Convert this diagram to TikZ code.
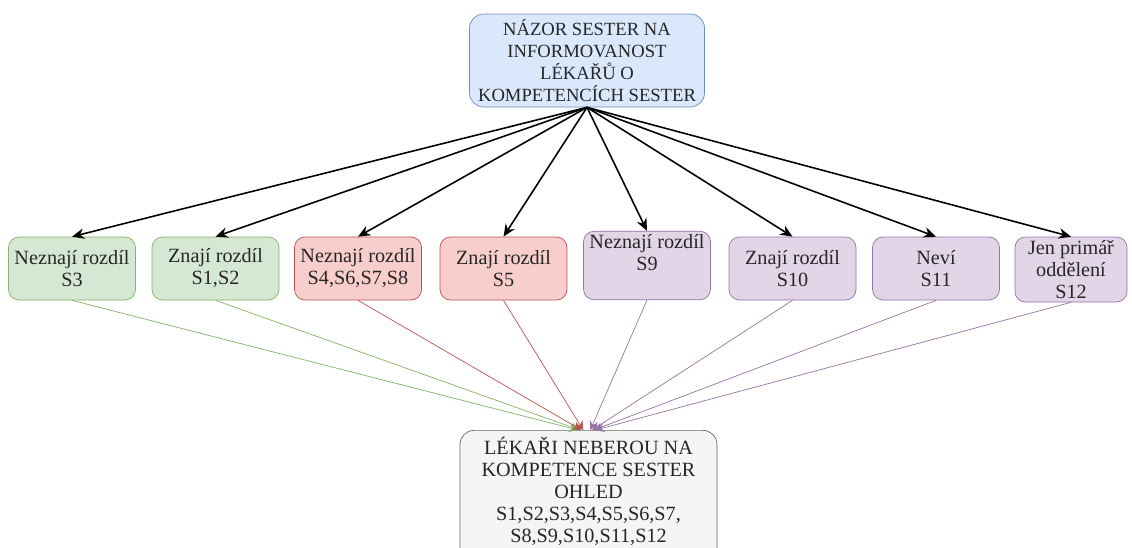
\documentclass[tikz,border=0pt]{standalone}
\usepackage{fontspec}
\setmainfont{Liberation Serif}
\usetikzlibrary{arrows.meta}

\definecolor{blueF}{HTML}{DAE8FC}\definecolor{blueD}{HTML}{6C8EBF}
\definecolor{greenF}{HTML}{D5E8D4}\definecolor{greenD}{HTML}{82B366}
\definecolor{redF}{HTML}{F8CECC}\definecolor{redD}{HTML}{B85450}
\definecolor{violF}{HTML}{E1D5E7}\definecolor{violD}{HTML}{9673A6}
\definecolor{grayF}{HTML}{F5F5F5}\definecolor{grayD}{HTML}{666666}

\tikzset{
  box/.style={draw, rounded corners=6pt, align=center, font=\fontsize{11.5}{12.5}\selectfont, inner sep=2pt, text=black!85},
  mid/.style={box, minimum width=2.54cm, minimum height=1.26cm},
  greenbox/.style={mid, fill=greenF, draw=greenD},
  redbox/.style={mid, fill=redF, draw=redD},
  violbox/.style={mid, fill=violF, draw=violD},
  down/.style={-{Stealth[length=7pt,width=6pt]}, line width=0.9pt},
  up/.style={-{Stealth[length=5pt,width=5pt]}, line width=0.4pt},
}

\begin{document}
\begin{tikzpicture}
\useasboundingbox (0,0) rectangle (22.64,-10.94);
\node[box, fill=blueF, draw=blueD, rounded corners=8pt, font=\fontsize{10.6}{12.5}\selectfont, minimum width=4.7cm, minimum height=1.86cm] (top) at (11.74,-1.21) {NÁZOR SESTER NA\\INFORMOVANOST\\LÉKAŘŮ O\\KOMPETENCÍCH SESTER};

\node[greenbox] (s1) at (1.44,-5.37) {Neznají rozdíl\\S3};
\node[greenbox] (s2) at (4.31,-5.37) {Znají rozdíl\\S1,S2};
\node[redbox] (s3) at (7.16,-5.37) {Neznají rozdíl\\S4,S6,S7,S8};
\node[redbox] (s4) at (10.07,-5.37) {Znají rozdíl\\S5};
\node[violbox] (s5) at (12.94,-5.31) {Neznají rozdíl\\S9\\[2pt]};
\node[violbox] (s6) at (15.85,-5.37) {Znají rozdíl\\S10};
\node[violbox] (s7) at (18.72,-5.37) {Neví\\S11};
\node[violbox, minimum width=2.24cm, minimum height=1.3cm, inner sep=1pt] (s8) at (21.42,-5.39) {Jen primář\\oddělení\\S12};

\node[box, fill=grayF, draw=grayD, rounded corners=8pt, minimum width=5.14cm, anchor=north, inner sep=4pt] (bot) at (11.77,-8.6) {LÉKAŘI NEBEROU NA\\KOMPETENCE SESTER\\OHLED\\S1,S2,S3,S4,S5,S6,S7,\\S8,S9,S10,S11,S12\\[4pt]};

% od horniho uzlu dolu
\draw[down] (top.south) -- (s1.north);
\draw[down] (top.south) -- (s2.north);
\draw[down] (top.south) -- (s3.north);
\draw[down] (top.south) -- (s4.north);
\draw[down] (top.south) -- (s5.north);
\draw[down] (top.south) -- (s6.north);
\draw[down] (top.south) -- (s7.north);
\draw[down] (top.south) -- (s8.north);

% do spolecneho uzlu
\draw[up, greenD] (s1.south) -- ([xshift=-6pt]bot.north);
\draw[up, greenD] (s2.south) -- ([xshift=-5pt]bot.north);
\draw[up, redD] (s3.south) -- ([xshift=-4pt]bot.north);
\draw[up, redD] (s4.south) -- ([xshift=-3pt]bot.north);
\draw[up, violD] (s5.south) -- ([xshift=1pt]bot.north);
\draw[up, violD] (s6.south) -- ([xshift=2pt]bot.north);
\draw[up, violD] (s7.south) -- ([xshift=3pt]bot.north);
\draw[up, violD] (s8.south) -- ([xshift=4pt]bot.north);
\end{tikzpicture}
\end{document}
